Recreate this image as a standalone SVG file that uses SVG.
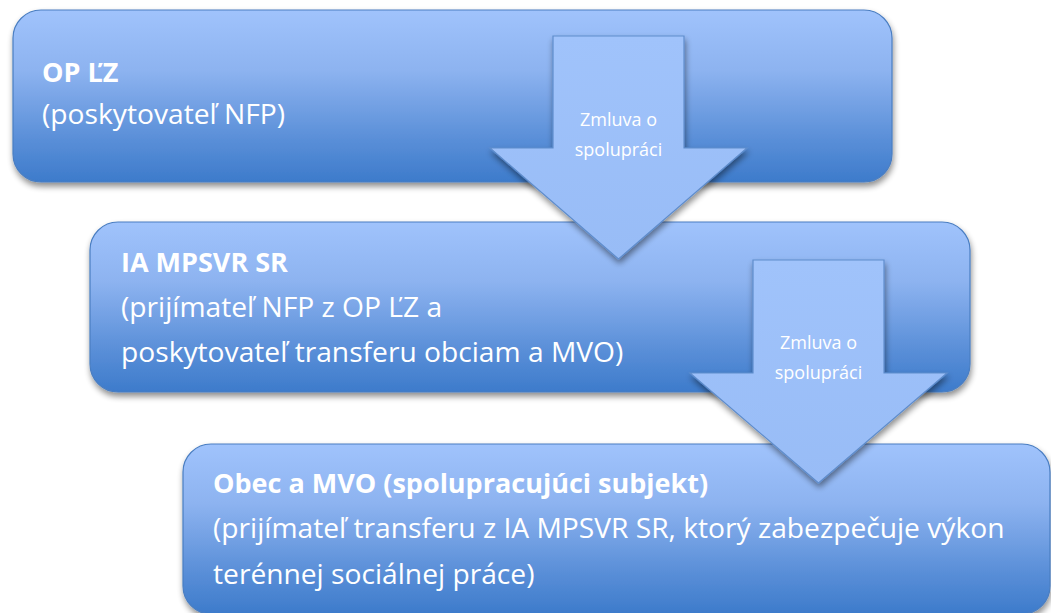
<svg xmlns="http://www.w3.org/2000/svg" width="1051" height="613" viewBox="0 0 1051 613">
  <defs>
    <linearGradient id="boxGrad" x1="0" y1="0" x2="0" y2="1">
      <stop offset="0" stop-color="#A0C3FC"/>
      <stop offset="0.35" stop-color="#8DB3F0"/>
      <stop offset="0.75" stop-color="#5A8FD8"/>
      <stop offset="1" stop-color="#3D7BCB"/>
    </linearGradient>
    <linearGradient id="arrowGrad" x1="0" y1="0" x2="0" y2="1">
      <stop offset="0" stop-color="#A0C3FB"/>
      <stop offset="1" stop-color="#98BCF6"/>
    </linearGradient>
    <filter id="shadow" x="-5%" y="-10%" width="110%" height="130%">
      <feGaussianBlur in="SourceAlpha" stdDeviation="3"/>
      <feOffset dx="1" dy="4" result="b"/>
      <feComponentTransfer><feFuncA type="linear" slope="0.45"/></feComponentTransfer>
      <feMerge><feMergeNode/><feMergeNode in="SourceGraphic"/></feMerge>
    </filter>
  </defs>
  <style>
    .box { fill: url(#boxGrad); stroke: #4A7EC2; stroke-width: 1.2; filter: url(#shadow); }
    .arrow { fill: url(#arrowGrad); stroke: #5F8DCC; stroke-width: 1.2; filter: url(#shadow); }
    .t { font-family: "Open Sans", "Noto Sans", sans-serif; font-size: 28.2px; fill: #FFFFFF; }
    .b { font-weight: bold; font-size: 27px; }
    .s { font-family: "Open Sans", "Noto Sans", sans-serif; font-size: 18px; fill: #FFFFFF; text-anchor: middle; }
  </style>
  <rect width="1051" height="613" fill="#FFFFFF"/>
  <g id="node-op-lz">
    <rect class="box" x="13" y="10" width="879" height="172" rx="28" ry="28"/>
    <text class="t b" x="42" y="82">OP ĽZ</text>
    <text class="t" x="42" y="124">(poskytovateľ NFP)</text>
  </g>
  <g id="node-ia-mpsvr">
    <rect class="box" x="90" y="222" width="880" height="170" rx="28" ry="28"/>
    <text class="t b" x="121" y="272">IA MPSVR SR</text>
    <text class="t" x="121" y="317">(prijímateľ NFP z OP ĽZ a</text>
    <text class="t" x="121" y="362">poskytovateľ transferu obciam a MVO)</text>
  </g>
  <g id="node-obec-mvo">
    <rect class="box" x="183" y="444" width="867" height="170" rx="28" ry="28"/>
    <text class="t b" x="213" y="493">Obec a MVO (spolupracujúci subjekt)</text>
    <text class="t" x="213" y="538">(prijímateľ transferu z IA MPSVR SR, ktorý zabezpečuje výkon</text>
    <text class="t" x="213" y="584">terénnej sociálnej práce)</text>
  </g>
  <g id="connectors">
    <g id="arrow-1">
      <polygon class="arrow" points="553,36 684,36 684,148 747,148 618.5,259 490,148 553,148"/>
      <text class="s" x="618.5" y="126">Zmluva o</text>
      <text class="s" x="618.5" y="156">spolupráci</text>
    </g>
    <g id="arrow-2">
      <polygon class="arrow" points="753,260 884,260 884,373 947,373 818.5,483 690,373 753,373"/>
      <text class="s" x="818.5" y="349">Zmluva o</text>
      <text class="s" x="818.5" y="379">spolupráci</text>
    </g>
  </g>
</svg>
